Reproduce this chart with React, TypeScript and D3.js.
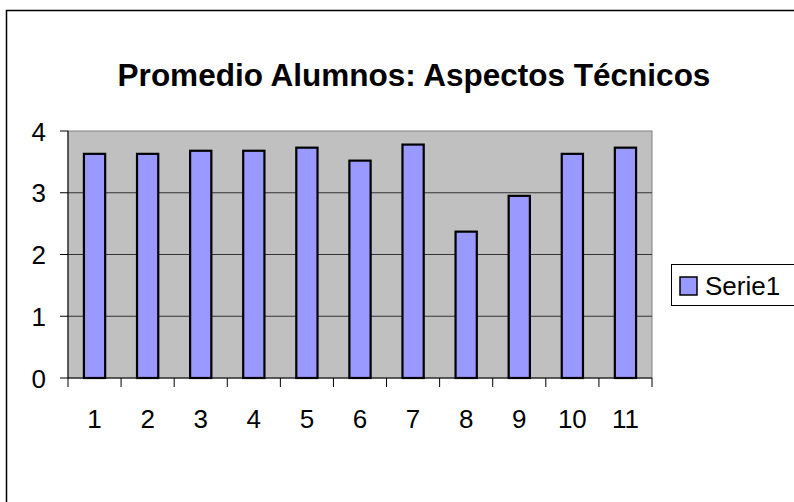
import React from "react";
import * as d3 from "d3";

const categories = ["1", "2", "3", "4", "5", "6", "7", "8", "9", "10", "11"];
const serie1 = [3.63, 3.63, 3.68, 3.68, 3.73, 3.52, 3.78, 2.37, 2.95, 3.63, 3.73];
const yTicks = [0, 1, 2, 3, 4];
const title = "Promedio Alumnos: Aspectos Técnicos";
const seriesName = "Serie1";

const W = 794;
const H = 502;
const plot = { left: 68, right: 652, top: 131, bottom: 378 };
const font = "Arial, 'Liberation Sans', sans-serif";

export default function App() {
  const x = d3.scaleBand().domain(categories).range([plot.left, plot.right]).padding(0);
  const y = d3.scaleLinear().domain([0, 4]).range([plot.bottom, plot.top]);
  const barW = x.bandwidth() / 2.5;
  const bounds = categories.map((c) => x(c) as number).concat([plot.right]);

  return (
    <svg width={W} height={H} style={{ position: "absolute", left: 0, top: 0 }}>
      <rect x={0} y={0} width={W} height={H} fill="#fff" />
      <rect x={6.5} y={10.5} width={W + 10} height={H + 10} fill="none" stroke="#000" strokeWidth={1.5} />
      <text x={414} y={86} textAnchor="middle" fontFamily={font} fontWeight="bold" fontSize={31.5}>
        {title}
      </text>

      {/* plot area */}
      <rect x={plot.left} y={plot.top} width={plot.right - plot.left} height={plot.bottom - plot.top}
        fill="#c0c0c0" stroke="#808080" strokeWidth={1} />
      {yTicks.filter((t) => t > 0 && t < 4).map((t) => (
        <line key={t} x1={plot.left} x2={plot.right} y1={y(t)} y2={y(t)} stroke="#333" strokeWidth={1} />
      ))}

      {serie1.map((v, i) => (
        <rect key={i}
          x={(x(categories[i]) as number) + (x.bandwidth() - barW) / 2}
          y={y(v)} width={barW} height={y(0) - y(v)}
          fill="#9999ff" stroke="#000" strokeWidth={2.2} />
      ))}

      {/* axes */}
      <line x1={plot.left} x2={plot.left} y1={plot.top} y2={plot.bottom} stroke="#000" strokeWidth={1} />
      <line x1={plot.left} x2={plot.right} y1={plot.bottom} y2={plot.bottom} stroke="#000" strokeWidth={1} />
      {yTicks.map((t) => (
        <g key={t}>
          <line x1={plot.left - 8} x2={plot.left} y1={y(t)} y2={y(t)} stroke="#000" />
          <text x={46} y={y(t) + 9.5} textAnchor="end" fontFamily={font} fontSize={26}>{t}</text>
        </g>
      ))}
      {bounds.map((b, i) => (
        <line key={i} x1={b} x2={b} y1={plot.bottom} y2={plot.bottom + 9} stroke="#000" />
      ))}
      {categories.map((c) => (
        <text key={c} x={(x(c) as number) + x.bandwidth() / 2} y={428} textAnchor="middle"
          fontFamily={font} fontSize={26}>{c}</text>
      ))}

      {/* legend */}
      <rect x={671.5} y={264.5} width={140} height={41} fill="#fff" stroke="#000" strokeWidth={1} />
      <rect x={680} y={277} width={17} height={18} fill="#9999ff" stroke="#000" strokeWidth={1.5} />
      <text x={705} y={295} fontFamily={font} fontSize={26}>{seriesName}</text>
    </svg>
  );
}
